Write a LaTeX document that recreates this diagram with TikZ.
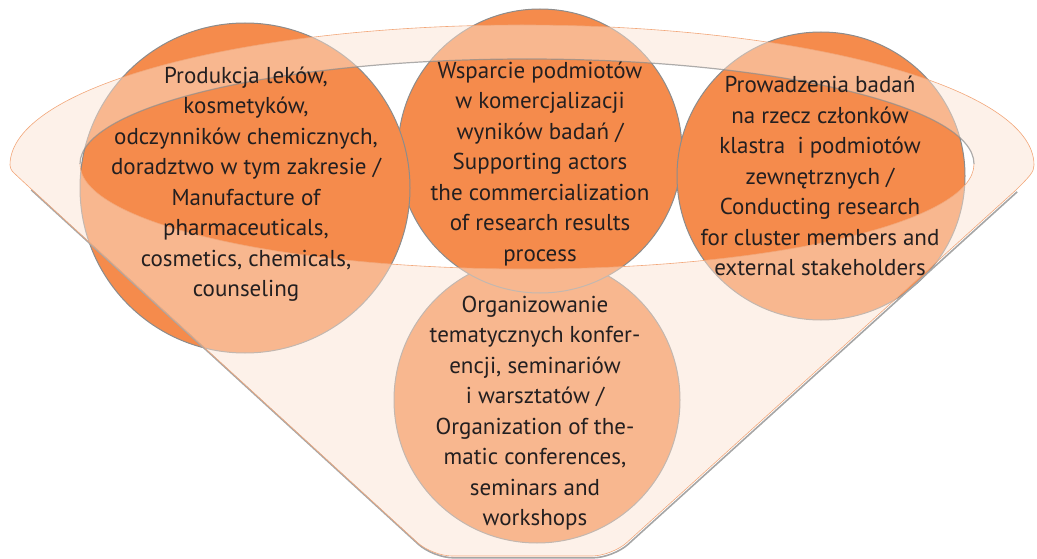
\documentclass[tikz,border=0pt]{standalone}
\usepackage{fontspec}
\setmainfont{PT Sans}
\usepackage{tikz}
\usetikzlibrary{positioning}
\definecolor{ballorange}{HTML}{F58B4C}
\definecolor{funnelpeach}{HTML}{FBE3D3}
\definecolor{rimorange}{HTML}{F2A77A}
\definecolor{inktext}{HTML}{231F20}
\tikzstyle{ball} = [circle, fill=ballorange, draw=black!45, line width=1pt,
    inner sep=0pt]
\tikzstyle{balltext} = [align=center, text=inktext,
    font=\fontsize{23}{30.5}\selectfont]
\tikzstyle{funnel} = [fill=funnelpeach, fill opacity=0.5, even odd rule]
\newcommand{\funnelpath}{(10,-165) arc[start angle=180, end angle=0,
    x radius=512, y radius=140]
    .. controls (1034,-172) and (1030,-176) .. (1016,-190)
    [rounded corners=20pt] -- (612,-556) -- (432,-556) -- (30,-188)
    [sharp corners] .. controls (14,-173) and (10,-170) .. (10,-165)}

\begin{document}
\begin{tikzpicture}[x=1pt, y=1pt]
\useasboundingbox (0,0) rectangle (1037,-559);
% balls
\node [ball, minimum size=286] (b4) at (537,-400) {};
\node [ball, minimum size=284] (b2) at (540,-151) {};
\node [ball, minimum size=330] (b1) at (245,-188) {};
\node [ball, minimum size=288] (b3) at (821,-176) {};
% funnel
\fill [funnel] \funnelpath{} (527,-164) ellipse[x radius=447, y radius=105];
\draw [black!35, line width=1.6pt, shift={(1.2,-1.8)}] (1016,-190)
    [rounded corners=20pt] -- (612,-556) -- (432,-556) -- (30,-188);
\draw [rimorange, line width=0.6pt] \funnelpath;
\draw [black!45, line width=1.2pt, opacity=0.7] (80,-164) arc[start angle=180,
    end angle=0, x radius=447, y radius=105];
\draw [rimorange, line width=0.6pt] (80,-164) arc[start angle=180,
    end angle=360, x radius=447, y radius=105];
% texts
\node [balltext] (t1) at (246,-184) {Produkcja leków,\\kosmetyków,\\odczynników chemicznych,\\doradztwo w tym zakresie /\\Manufacture of\\pharmaceuticals,\\cosmetics, chemicals,\\counseling};
\node [balltext] (t2) at (540,-164) {Wsparcie podmiotów\\w komercjalizacji\\wyników badań /\\Supporting actors\\the commercialization\\of research results\\process};
\node [balltext] (t3) at (820,-176) {Prowadzenia badań\\na rzecz członków\\klastra \ i podmiotów\\zewnętrznych /\\Conducting research\\for cluster members and\\external stakeholders};
\node [balltext] (t4) at (535,-413) {Organizowanie\\tematycznych konfer-\\encji, seminariów\\i warsztatów /\\Organization of the-\\matic conferences,\\seminars and\\workshops};
\end{tikzpicture}
\end{document}
